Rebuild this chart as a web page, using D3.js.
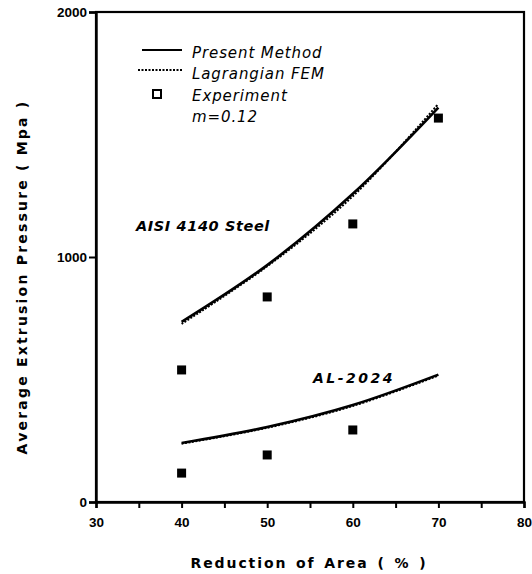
<!DOCTYPE html>
<html>
<head>
<meta charset="utf-8">
<title>Extrusion pressure</title>
<script src="https://cdn.jsdelivr.net/npm/d3@7"></script>
<style>
  body { margin: 0; background: #fff; }
  text { font-family: "DejaVu Sans", sans-serif; fill: #000; }
</style>
</head>
<body>
<div id="chart"></div>
<script>
// reduction of area (%)
var reduction = [40, 50, 60, 70];
// AISI 4140 steel
var steelPresent = [735, 967, 1258, 1610];
var steelFem = [727, 962, 1248, 1625];
var steelExp = [539, 837, 1135, 1567];
// AL-2024
var alPresent = [241, 306, 396, 520];
var alFem = [238, 303, 392, 516];
var alExp = [118, 192, 294];

var xTicks = [30, 40, 50, 60, 70, 80];
var yTicks = [0, 1000, 2000];

var W = 532, H = 574;
var m = {top: 12, right: 8, bottom: 72, left: 96};

var svg = d3.select("#chart").append("svg").attr("width", W).attr("height", H);

var x = d3.scaleLinear().domain([30, 80]).range([m.left, W - m.right]);
var y = d3.scaleLinear().domain([0, 2000]).range([H - m.bottom, m.top]);

// frame
svg.append("rect")
    .attr("x", x(30)).attr("y", y(2000))
    .attr("width", x(80) - x(30)).attr("height", y(0) - y(2000))
    .attr("fill", "none").attr("stroke", "#000").attr("stroke-width", 2.2);

// x axis: ticks every 5, labels every 10
var xa = svg.append("g").attr("transform", "translate(0," + y(0) + ")")
    .call(d3.axisBottom(x).tickValues(d3.range(30, 81, 5)).tickSize(6)
        .tickFormat(function (d) { return xTicks.indexOf(d) >= 0 ? d : ""; }));
xa.select(".domain").attr("stroke-width", 2.4);
xa.selectAll(".tick line").attr("stroke-width", 2);
xa.selectAll(".tick text").attr("dy", "1.2em")
    .style("font-family", "'Liberation Sans', Arial, sans-serif")
    .style("font-size", "13.5px").style("font-weight", "bold");

var ya = svg.append("g").attr("transform", "translate(" + x(30) + ",0)")
    .call(d3.axisLeft(y).tickValues(yTicks).tickSize(7).tickFormat(d3.format("d")));
ya.select(".domain").attr("stroke-width", 2.4);
ya.selectAll(".tick line").attr("stroke-width", 2);
ya.selectAll(".tick text").attr("x", -9)
    .style("font-family", "'Liberation Sans', Arial, sans-serif")
    .style("font-size", "13.5px").style("font-weight", "bold");

// axis titles
svg.append("text").attr("x", 309).attr("y", 568).attr("text-anchor", "middle")
    .style("font-size", "14px").style("font-weight", "bold").style("letter-spacing", "1.9px")
    .style("word-spacing", "2px")
    .text("Reduction of Area ( % )");
svg.append("text").attr("transform", "translate(27,277) rotate(-90)").attr("text-anchor", "middle")
    .style("font-size", "14px").style("font-weight", "bold").style("letter-spacing", "2.2px")
    .text("Average Extrusion Pressure ( Mpa )");

var line = d3.line().x(function (d) { return x(d[0]); }).y(function (d) { return y(d[1]); })
    .curve(d3.curveCatmullRom.alpha(0.5));

function draw(vals, dashed) {
    svg.append("path").datum(d3.zip(reduction, vals))
        .attr("d", line).attr("fill", "none").attr("stroke", "#000")
        .attr("stroke-width", dashed ? 2 : 2.6)
        .attr("stroke-dasharray", dashed ? "2,1.5" : null);
}
draw(steelFem, true);
draw(steelPresent, false);
draw(alFem, true);
draw(alPresent, false);

var pts = d3.zip(reduction, steelExp).concat(d3.zip(reduction.slice(0, alExp.length), alExp));
svg.selectAll(".exp").data(pts).enter().append("rect")
    .attr("class", "exp")
    .attr("x", function (d) { return x(d[0]) - 4.5; })
    .attr("y", function (d) { return y(d[1]) - 4.5; })
    .attr("width", 9).attr("height", 9).attr("fill", "#000");

// labels
svg.append("text").attr("x", 136).attr("y", 231)
    .style("font-size", "14.5px").style("font-weight", "bold").style("font-style", "italic")
    .style("letter-spacing", "0.6px")
    .text("AISI 4140 Steel");
svg.append("text").attr("x", 313).attr("y", 383)
    .style("font-size", "14px").style("font-weight", "bold").style("font-style", "italic")
    .style("letter-spacing", "2.5px")
    .text("AL-2024");

// legend
var lg = svg.append("g");
lg.append("line").attr("x1", 142).attr("x2", 182).attr("y1", 50).attr("y2", 50)
    .attr("stroke", "#000").attr("stroke-width", 2.2);
lg.append("line").attr("x1", 138).attr("x2", 182).attr("y1", 70).attr("y2", 70)
    .attr("stroke", "#000").attr("stroke-width", 2).attr("stroke-dasharray", "2,1.5");
lg.append("rect").attr("x", 153).attr("y", 90).attr("width", 8).attr("height", 8)
    .attr("fill", "none").attr("stroke", "#000").attr("stroke-width", 2);
var legTexts = ["Present Method", "Lagrangian FEM", "Experiment", "m=0.12"];
lg.selectAll(".lt").data(legTexts).enter().append("text")
    .attr("x", 192).attr("y", function (d, i) { return 57.5 + i * 21.5; })
    .style("font-size", "15px").style("font-style", "italic").style("letter-spacing", "0.9px")
    .text(function (d) { return d; });
</script>
</body>
</html>
